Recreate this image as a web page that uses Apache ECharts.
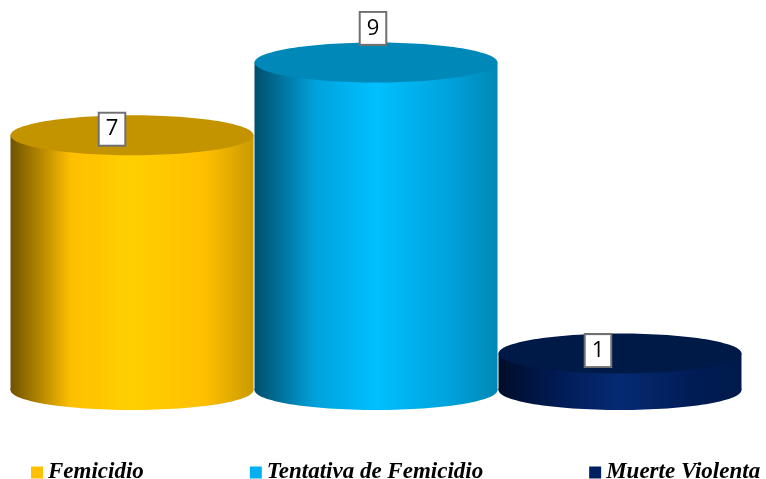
<!DOCTYPE html>
<html>
<head>
<meta charset="utf-8">
<script src="https://cdn.jsdelivr.net/npm/echarts@6/dist/echarts.min.js"></script>
<style>
  html, body { margin: 0; padding: 0; background: #fff; }
  #chart { width: 766px; height: 479px; }
</style>
</head>
<body>
<div id="chart"></div>
<script>
// datos
var categories = ['Femicidio', 'Tentativa de Femicidio', 'Muerte Violenta']
var values = [7, 9, 1]

// colores de cada cilindro: [borde izq, medio, brillo, borde der, tapa]
var palettes = [
  ['#6e5200', '#ffbf00', '#ffd000', '#c99a00', '#c49400'],
  ['#004e6b', '#00a2dc', '#00c0ff', '#0088b5', '#0088b8'],
  ['#000d2a', '#001c55', '#062a72', '#001a4c', '#001a48']
]
var legendColors = ['#ffc000', '#00b0f0', '#002060']
// desplazamiento de las etiquetas respecto al centro de la tapa
var labelOffsets = [[-20, -6], [-3, -34], [-22, -3]]

var chart = echarts.init(document.getElementById('chart'))

function sideGradient(p) {
  return new echarts.graphic.LinearGradient(0, 0, 1, 0, [
    { offset: 0, color: p[0] },
    { offset: 0.25, color: p[1] },
    { offset: 0.5, color: p[2] },
    { offset: 0.8, color: p[1] },
    { offset: 1, color: p[3] }
  ])
}

function renderCylinder(params, api) {
  var idx = api.value(0)
  var top = api.coord([idx, api.value(1)])
  var base = api.coord([idx, 0])
  var w = api.size([1, 0])[0] - 1
  var rx = w / 2
  var ry = 20
  var p = palettes[idx]
  var off = labelOffsets[idx]
  return {
    type: 'group',
    children: [
      {
        type: 'ellipse',
        shape: { cx: base[0], cy: base[1], rx: rx, ry: ry },
        style: { fill: sideGradient(p) }
      },
      {
        type: 'rect',
        shape: { x: top[0] - rx, y: top[1], width: w, height: base[1] - top[1] },
        style: { fill: sideGradient(p) }
      },
      {
        type: 'ellipse',
        shape: { cx: top[0], cy: top[1], rx: rx, ry: ry },
        style: { fill: p[4] }
      },
      {
        type: 'text',
        x: top[0] + off[0],
        y: top[1] + off[1],
        style: {
          text: String(api.value(1)),
          fill: '#000',
          font: '22px "Open Sans", "Noto Sans", sans-serif',
          align: 'center',
          verticalAlign: 'middle',
          backgroundColor: '#fff',
          borderColor: '#707070',
          borderWidth: 2,
          padding: [5, 6, 4, 6]
        }
      }
    ]
  }
}

var series = categories.map(function(name, i) {
  return {
    name: name,
    type: 'custom',
    renderItem: renderCylinder,
    itemStyle: { color: legendColors[i] },
    encode: { x: 0, y: 1 },
    data: [[i, values[i]]]
  }
})

chart.setOption({
  animation: false,
  grid: { left: 10, right: 24, top: 26, bottom: 89 },
  xAxis: { type: 'category', data: categories, show: false },
  yAxis: { type: 'value', min: 0, max: 10, show: false },
  legend: {
    left: 26,
    top: 456,
    icon: 'rect',
    itemWidth: 12,
    itemHeight: 12,
    itemGap: 106,
    textStyle: {
      color: '#000',
      fontFamily: '"Liberation Serif", serif',
      fontStyle: 'italic',
      fontWeight: 'bold',
      fontSize: 23
    },
    data: categories
  },
  series: series
})
</script>
</body>
</html>
